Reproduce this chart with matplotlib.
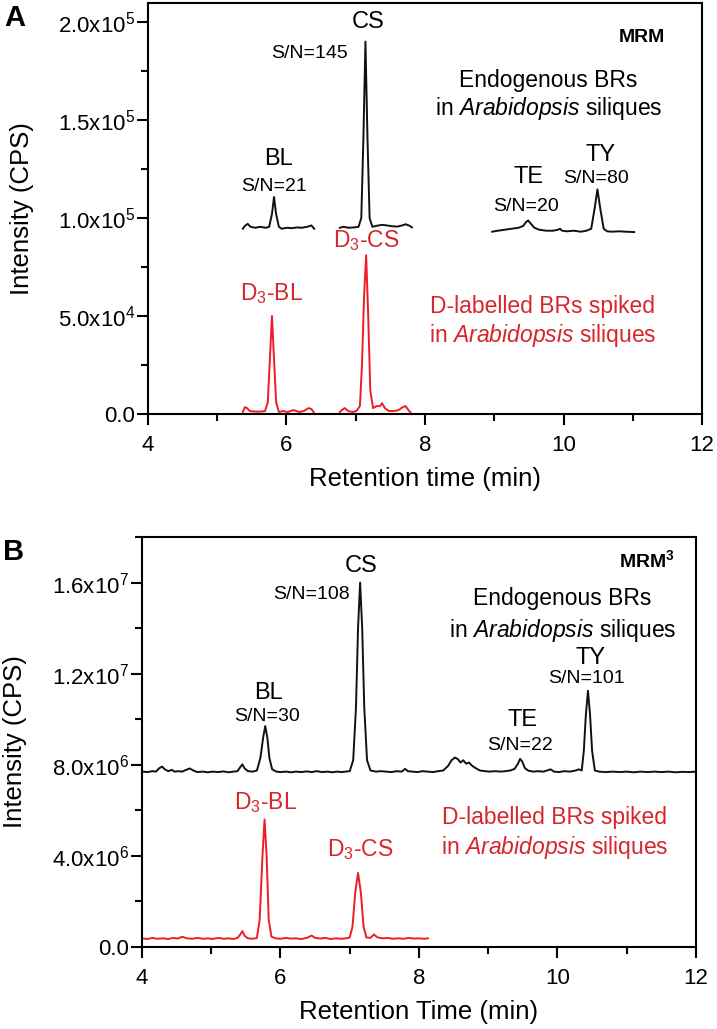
import matplotlib
matplotlib.use("Agg")
import matplotlib.pyplot as plt
from matplotlib.ticker import FixedLocator, MultipleLocator

plt.rcParams["font.family"] = ["Liberation Sans", "DejaVu Sans"]
plt.rcParams["mathtext.fontset"] = "custom"
plt.rcParams["mathtext.rm"] = "Liberation Sans"
plt.rcParams["mathtext.it"] = "Liberation Sans:italic"
plt.rcParams["mathtext.bf"] = "Liberation Sans:bold"

BLACK = "#111111"
RED_LINE = "#ee1c25"
RED_TEXT = "#d7262b"

# ---- panel A (MRM), intensities in CPS ----
a_bl_t = [5.37, 5.40, 5.44, 5.48, 5.55, 5.62, 5.70, 5.75, 5.79, 5.82, 5.85, 5.89,
          5.93, 6.00, 6.08, 6.15, 6.22, 6.30, 6.36, 6.40]
a_bl_i = [94500, 96000, 97000, 95500, 95000, 95500, 95000, 95500, 102000, 110700,
          102000, 95500, 94500, 95000, 94800, 95200, 95000, 95500, 96200, 94500]

a_cs_t = [6.77, 6.82, 6.90, 6.98, 7.04, 7.08, 7.11, 7.14, 7.17, 7.20, 7.24, 7.30,
          7.38, 7.45, 7.52, 7.60, 7.67, 7.72, 7.78, 7.81]
a_cs_i = [95000, 95500, 95000, 95200, 95500, 100000, 140000, 190000, 140000, 100000,
          95500, 96000, 96500, 96200, 95800, 95600, 96200, 96800, 96000, 95200]

a_tety_t = [8.97, 9.05, 9.15, 9.25, 9.35, 9.42, 9.46, 9.49, 9.53, 9.58, 9.65, 9.75,
            9.85, 9.92, 9.95, 9.98, 10.05, 10.15, 10.25, 10.33, 10.40, 10.45, 10.49,
            10.53, 10.58, 10.63, 10.70, 10.80, 10.90, 11.02]
a_tety_i = [93000, 93500, 94000, 94500, 95000, 96000, 98000, 98700, 97000, 95000,
            94000, 93500, 93500, 94000, 94500, 93500, 93200, 93500, 93000, 93500,
            94500, 105000, 114600, 105000, 94500, 93200, 93000, 93200, 93000, 92800]

a_d3bl_t = [5.37, 5.40, 5.43, 5.47, 5.55, 5.62, 5.69, 5.73, 5.76, 5.79, 5.82, 5.85,
            5.89, 5.95, 6.02, 6.10, 6.18, 6.25, 6.32, 6.36, 6.41]
a_d3bl_i = [1000, 3500, 3000, 1500, 1200, 1200, 1500, 6000, 28000, 50000, 28000,
            6000, 1000, 1500, 1000, 2000, 1000, 1500, 3000, 2500, 0]

a_d3cs_t = [6.77, 6.80, 6.84, 6.89, 6.95, 7.01, 7.06, 7.09, 7.12, 7.15, 7.18, 7.21,
            7.25, 7.30, 7.35, 7.38, 7.42, 7.48, 7.55, 7.62, 7.68, 7.72, 7.76, 7.81]
a_d3cs_i = [1000, 2000, 3000, 1500, 1000, 1500, 4000, 25000, 60000, 81000, 50000,
            12000, 3000, 4000, 4000, 5500, 3000, 1500, 1500, 2000, 3500, 4000, 2000, 0]

a_yticks = [0, 50000, 100000, 150000, 200000]
a_ylabels = ["0.0", "5.0x10$^4$", "1.0x10$^5$", "1.5x10$^5$", "2.0x10$^5$"]

# ---- panel B (MRM3), intensities in CPS ----
b_endo_t = [4.00, 4.08, 4.15, 4.20, 4.25, 4.29, 4.33, 4.38, 4.43, 4.47, 4.52, 4.58,
            4.64, 4.69, 4.74, 4.80, 4.88, 4.95, 5.02, 5.10, 5.18, 5.25, 5.32, 5.38,
            5.42, 5.45, 5.48, 5.53, 5.60, 5.66, 5.71, 5.75, 5.78, 5.81, 5.84, 5.88,
            5.94, 6.00, 6.08, 6.15, 6.22, 6.30, 6.38, 6.45, 6.52, 6.60, 6.68, 6.75,
            6.82, 6.88, 6.94, 7.00, 7.05, 7.09, 7.12, 7.15, 7.18, 7.21, 7.25, 7.30,
            7.38, 7.45, 7.52, 7.60, 7.68, 7.75, 7.80, 7.84, 7.90, 7.98, 8.05, 8.12,
            8.20, 8.28, 8.35, 8.42, 8.47, 8.52, 8.56, 8.60, 8.64, 8.68, 8.72, 8.77,
            8.82, 8.88, 8.95, 9.02, 9.10, 9.18, 9.25, 9.32, 9.38, 9.43, 9.46, 9.49,
            9.53, 9.58, 9.65, 9.72, 9.80, 9.86, 9.90, 9.95, 10.02, 10.10, 10.18,
            10.25, 10.31, 10.35, 10.38, 10.41, 10.44, 10.47, 10.50, 10.54, 10.60,
            10.70, 10.80, 10.90, 11.00, 11.10, 11.20, 11.30, 11.40, 11.50, 11.60,
            11.70, 11.80, 11.90, 12.00]
b_endo_i = [7.70, 7.68, 7.72, 7.70, 7.85, 7.92, 7.80, 7.72, 7.78, 7.70, 7.72, 7.70,
            7.78, 7.84, 7.75, 7.68, 7.70, 7.67, 7.70, 7.68, 7.71, 7.67, 7.70, 7.72,
            7.90, 8.02, 7.85, 7.72, 7.70, 7.75, 8.30, 9.20, 9.70, 9.20, 8.30, 7.80,
            7.70, 7.68, 7.70, 7.67, 7.70, 7.68, 7.71, 7.68, 7.72, 7.68, 7.70, 7.67,
            7.70, 7.68, 7.70, 7.72, 8.20, 10.50, 14.00, 16.00, 14.00, 10.50, 8.20, 7.75,
            7.70, 7.72, 7.70, 7.68, 7.72, 7.70, 7.82, 7.72, 7.70, 7.68, 7.72, 7.70,
            7.68, 7.72, 7.75, 7.95, 8.20, 8.32, 8.25, 8.10, 8.20, 8.05, 8.10, 7.95,
            7.85, 7.75, 7.72, 7.70, 7.72, 7.70, 7.72, 7.75, 7.82, 8.05, 8.26, 8.15,
            7.85, 7.74, 7.70, 7.72, 7.70, 7.76, 7.80, 7.70, 7.68, 7.72, 7.70,
            7.74, 7.80, 7.75, 8.60, 10.20, 11.25, 10.20, 8.60, 7.75, 7.70,
            7.68, 7.70, 7.68, 7.70, 7.67, 7.70, 7.68, 7.70, 7.68, 7.70,
            7.67, 7.69, 7.68, 7.70]
b_endo_i = [v * 1e6 for v in b_endo_i]

b_spk_t = [4.00, 4.08, 4.15, 4.22, 4.30, 4.38, 4.45, 4.52, 4.58, 4.65, 4.72, 4.80,
           4.88, 4.95, 5.02, 5.10, 5.18, 5.25, 5.32, 5.38, 5.42, 5.45, 5.48, 5.53,
           5.60, 5.66, 5.70, 5.74, 5.77, 5.80, 5.83, 5.87, 5.93, 6.00, 6.08, 6.15,
           6.22, 6.30, 6.38, 6.45, 6.50, 6.58, 6.65, 6.72, 6.80, 6.88, 6.95, 7.00,
           7.04, 7.08, 7.12, 7.16, 7.20, 7.24, 7.30, 7.35, 7.40, 7.48, 7.55, 7.62,
           7.70, 7.78, 7.85, 7.92, 8.00, 8.08, 8.13]
b_spk_i = [0.38, 0.35, 0.40, 0.36, 0.38, 0.35, 0.40, 0.37, 0.45, 0.38, 0.36, 0.40,
           0.36, 0.38, 0.35, 0.40, 0.36, 0.38, 0.35, 0.40, 0.55, 0.70, 0.50, 0.38,
           0.36, 0.40, 1.20, 4.00, 5.60, 4.00, 1.20, 0.45, 0.38, 0.36, 0.40, 0.37,
           0.38, 0.35, 0.40, 0.50, 0.40, 0.37, 0.40, 0.35, 0.38, 0.36, 0.38, 0.42,
           0.90, 2.40, 3.25, 2.40, 0.90, 0.42, 0.40, 0.55, 0.42, 0.38, 0.40, 0.36,
           0.38, 0.36, 0.40, 0.37, 0.38, 0.36, 0.38]
b_spk_i = [v * 1e6 for v in b_spk_i]

b_yticks = [0, 4e6, 8e6, 1.2e7, 1.6e7]
b_ylabels = ["0.0", "4.0x10$^6$", "8.0x10$^6$", "1.2x10$^7$", "1.6x10$^7$"]

# font sizes
FS_TICK = 16
FS_AXLABEL = 18.5
FS_PEAK = 17
FS_SN = 14
FS_NOTE = 16.5
FS_MRM = 14


def style_axes(ax, yticks, ylabels, yminor, ylim, xlabel, ylab_x):
    ax.set_xlim(4, 12)
    ax.set_ylim(*ylim)
    ax.xaxis.set_major_locator(FixedLocator([4, 6, 8, 10, 12]))
    ax.xaxis.set_minor_locator(MultipleLocator(1))
    ax.yaxis.set_major_locator(FixedLocator(yticks))
    ax.set_yticklabels(ylabels)
    ax.yaxis.set_minor_locator(MultipleLocator(yminor))
    ax.tick_params(which="major", direction="out", length=8, width=1.5, labelsize=FS_TICK)
    ax.tick_params(which="minor", direction="out", length=5, width=1.5)
    ax.tick_params(axis="x", which="major", pad=7)
    ax.tick_params(axis="y", which="major", pad=1.5)
    ax.tick_params(top=False, right=False)
    for s in ax.spines.values():
        s.set_linewidth(1.5)
    ax.set_xlabel(xlabel, fontsize=FS_AXLABEL, labelpad=8)
    ax.set_ylabel("Intensity (CPS)", fontsize=FS_AXLABEL)
    ax.yaxis.set_label_coords(ylab_x, 0.5)


fig = plt.figure(figsize=(7.17, 10.29), dpi=100)
ax_a = fig.add_axes([0.2064, 0.5977, 0.7727, 0.3994])
ax_b = fig.add_axes([0.1980, 0.0797, 0.7727, 0.3984])

lw = 1.4
for t, i in [(a_bl_t, a_bl_i), (a_cs_t, a_cs_i), (a_tety_t, a_tety_i)]:
    ax_a.plot(t, i, color=BLACK, lw=lw)
for t, i in [(a_d3bl_t, a_d3bl_i), (a_d3cs_t, a_d3cs_i)]:
    ax_a.plot(t, i, color=RED_LINE, lw=lw, clip_on=False)
style_axes(ax_a, a_yticks, a_ylabels, 25000, (0, 2.097e5), "Retention time (min)", -0.205)

ax_b.plot(b_endo_t, b_endo_i, color=BLACK, lw=lw)
ax_b.plot(b_spk_t, b_spk_i, color=RED_LINE, lw=lw)
style_axes(ax_b, b_yticks, b_ylabels, 2e6, (0, 1.8e7), "Retention Time (min)", -0.207)

# panel A annotations
ax_a.text(7.18, 2.0e5, "CS", fontsize=FS_PEAK, ha="center", va="center")
ax_a.text(6.89, 1.84e5, "S/N=145", fontsize=FS_SN, ha="right", va="center")
ax_a.text(5.88, 1.30e5, "BL", fontsize=FS_PEAK, ha="center", va="center")
ax_a.text(5.82, 1.16e5, "S/N=21", fontsize=FS_SN, ha="center", va="center")
ax_a.text(9.50, 1.21e5, "TE", fontsize=FS_PEAK, ha="center", va="center")
ax_a.text(9.46, 1.06e5, "S/N=20", fontsize=FS_SN, ha="center", va="center")
ax_a.text(10.54, 1.32e5, "TY", fontsize=FS_PEAK, ha="center", va="center")
ax_a.text(10.47, 1.20e5, "S/N=80", fontsize=FS_SN, ha="center", va="center")
ax_a.text(11.47, 1.92e5, "MRM", fontsize=FS_MRM, fontweight="bold", ha="right", va="center")
ax_a.text(9.78, 1.70e5, "Endogenous BRs", fontsize=FS_NOTE, ha="center", va="center")
ax_a.text(9.78, 1.56e5, r"in $\mathit{Arabidopsis}$ siliques", fontsize=FS_NOTE,
          ha="center", va="center")
ax_a.text(5.79, 0.615e5, r"D$_3$-BL", fontsize=FS_NOTE, color=RED_TEXT, ha="center", va="center")
ax_a.text(7.15, 0.885e5, r"D$_3$-CS", fontsize=FS_NOTE, color=RED_TEXT, ha="center", va="center")
ax_a.text(9.7, 0.55e5, "D-labelled BRs spiked", fontsize=FS_NOTE, color=RED_TEXT,
          ha="center", va="center")
ax_a.text(9.7, 0.40e5, r"in $\mathit{Arabidopsis}$ siliques", fontsize=FS_NOTE, color=RED_TEXT,
          ha="center", va="center")

# panel B annotations
ax_b.text(7.16, 1.675e7, "CS", fontsize=FS_PEAK, ha="center", va="center")
ax_b.text(7.0, 1.547e7, "S/N=108", fontsize=FS_SN, ha="right", va="center")
ax_b.text(5.82, 1.117e7, "BL", fontsize=FS_PEAK, ha="center", va="center")
ax_b.text(5.80, 1.01e7, "S/N=30", fontsize=FS_SN, ha="center", va="center")
ax_b.text(9.49, 9.98e6, "TE", fontsize=FS_PEAK, ha="center", va="center")
ax_b.text(9.46, 8.84e6, "S/N=22", fontsize=FS_SN, ha="center", va="center")
ax_b.text(10.48, 1.27e7, "TY", fontsize=FS_PEAK, ha="center", va="center")
ax_b.text(10.42, 1.18e7, "S/N=101", fontsize=FS_SN, ha="center", va="center")
ax_b.text(11.70, 1.70e7, r"MRM$^\mathbf{3}$", fontsize=FS_MRM, fontweight="bold",
          ha="right", va="center")
ax_b.text(10.07, 1.53e7, "Endogenous BRs", fontsize=FS_NOTE, ha="center", va="center")
ax_b.text(10.07, 1.39e7, r"in $\mathit{Arabidopsis}$ siliques", fontsize=FS_NOTE,
          ha="center", va="center")
ax_b.text(5.79, 6.35e6, r"D$_3$-BL", fontsize=FS_NOTE, color=RED_TEXT, ha="center", va="center")
ax_b.text(7.15, 4.3e6, r"D$_3$-CS", fontsize=FS_NOTE, color=RED_TEXT, ha="center", va="center")
ax_b.text(9.96, 5.67e6, "D-labelled BRs spiked", fontsize=FS_NOTE, color=RED_TEXT,
          ha="center", va="center")
ax_b.text(9.96, 4.35e6, r"in $\mathit{Arabidopsis}$ siliques", fontsize=FS_NOTE, color=RED_TEXT,
          ha="center", va="center")

fig.text(15 / 717, 1 - 18 / 1029, "A", fontsize=21, fontweight="bold", ha="center", va="center")
fig.text(14 / 717, 1 - 552 / 1029, "B", fontsize=21, fontweight="bold", ha="center", va="center")

fig.savefig("out.png", dpi=100)
plt.close(fig)
